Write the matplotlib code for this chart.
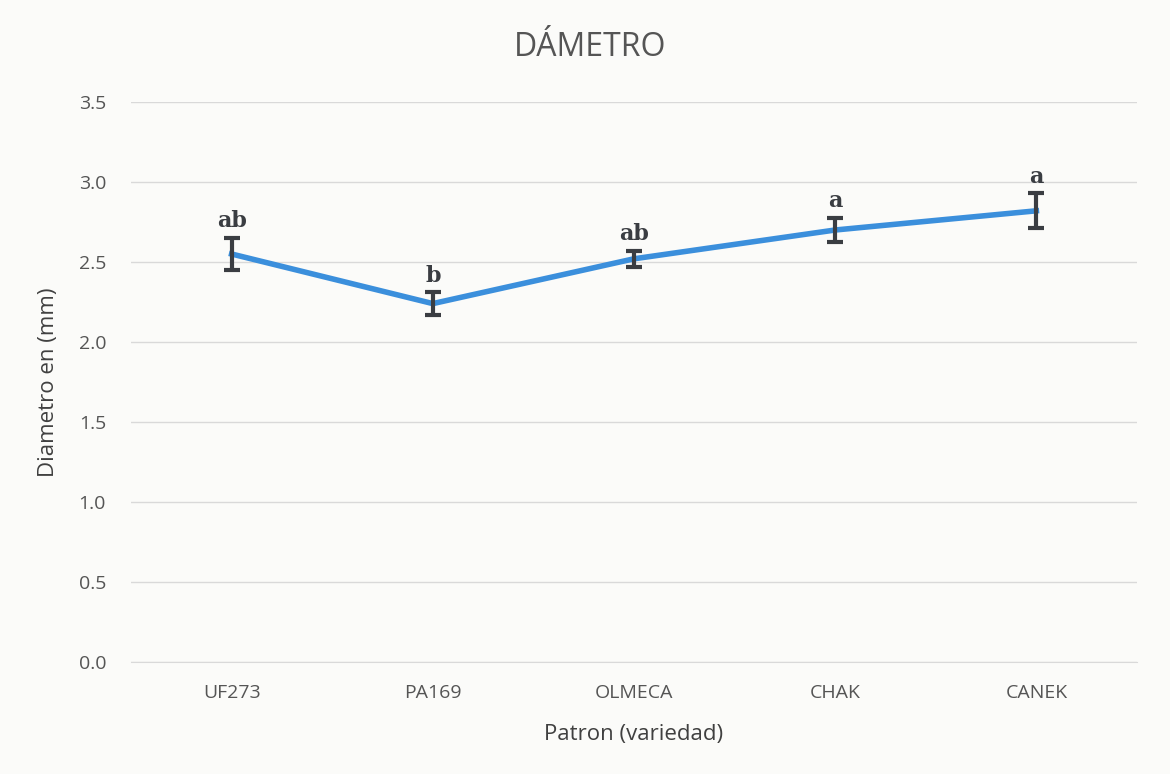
import matplotlib.pyplot as plt
import numpy as np

# data
patrones = ["UF273", "PA169", "OLMECA", "CHAK", "CANEK"]
diametro = [2.55, 2.24, 2.52, 2.70, 2.82]
error = [0.10, 0.07, 0.05, 0.075, 0.11]
letras = ["ab", "b", "ab", "a", "a"]

plt.rcParams['font.family'] = ['Open Sans', 'DejaVu Sans']

fig = plt.figure(figsize=(11.7, 7.74), dpi=100)
fig.patch.set_facecolor('#fbfbf9')
ax = fig.add_axes([131 / 1170, 1 - 662 / 774, 1006 / 1170, 560 / 774])
ax.set_facecolor('#fbfbf9')

x = np.arange(len(patrones))
ax.plot(x, diametro, color='#3b8fdc', linewidth=4, zorder=3)
ax.errorbar(x, diametro, yerr=error, fmt='none', ecolor='#3a3d42',
            elinewidth=3, capsize=6, capthick=3, zorder=4)

for xi, yi, e, l in zip(x, diametro, error, letras):
    ax.annotate(l, (xi, yi + e), xytext=(0, 4), textcoords='offset points',
                ha='center', va='bottom', fontsize=16, fontweight='bold',
                family=['DejaVu Serif'], color='#3a3d42')

ax.set_xlim(-0.5, len(patrones) - 0.5)
ax.set_ylim(0, 3.5)
ax.set_yticks(np.arange(0, 3.51, 0.5))
ax.set_yticklabels([f"{v:.1f}" for v in np.arange(0, 3.51, 0.5)])
ax.set_xticks(x)
ax.set_xticklabels(patrones)
ax.tick_params(axis='both', length=0, labelsize=14, colors='#555555')
ax.tick_params(axis='x', pad=16)
ax.tick_params(axis='y', pad=18)
ax.grid(axis='y', color='#d9d9d9', linewidth=1)
ax.set_axisbelow(True)
for s in ax.spines.values():
    s.set_visible(False)
ax.spines['bottom'].set_visible(True)
ax.spines['bottom'].set_color('#d9d9d9')

fig.text(590 / 1170, 1 - 48 / 774, "DÁMETRO", fontsize=23, color='#555555',
         ha='center', va='center')
ax.set_xlabel("Patron (variedad)", fontsize=16, color='#404040', labelpad=16)
ax.set_ylabel("Diametro en (mm)", fontsize=16, color='#404040', labelpad=14)

plt.savefig("out.png", dpi=100)
